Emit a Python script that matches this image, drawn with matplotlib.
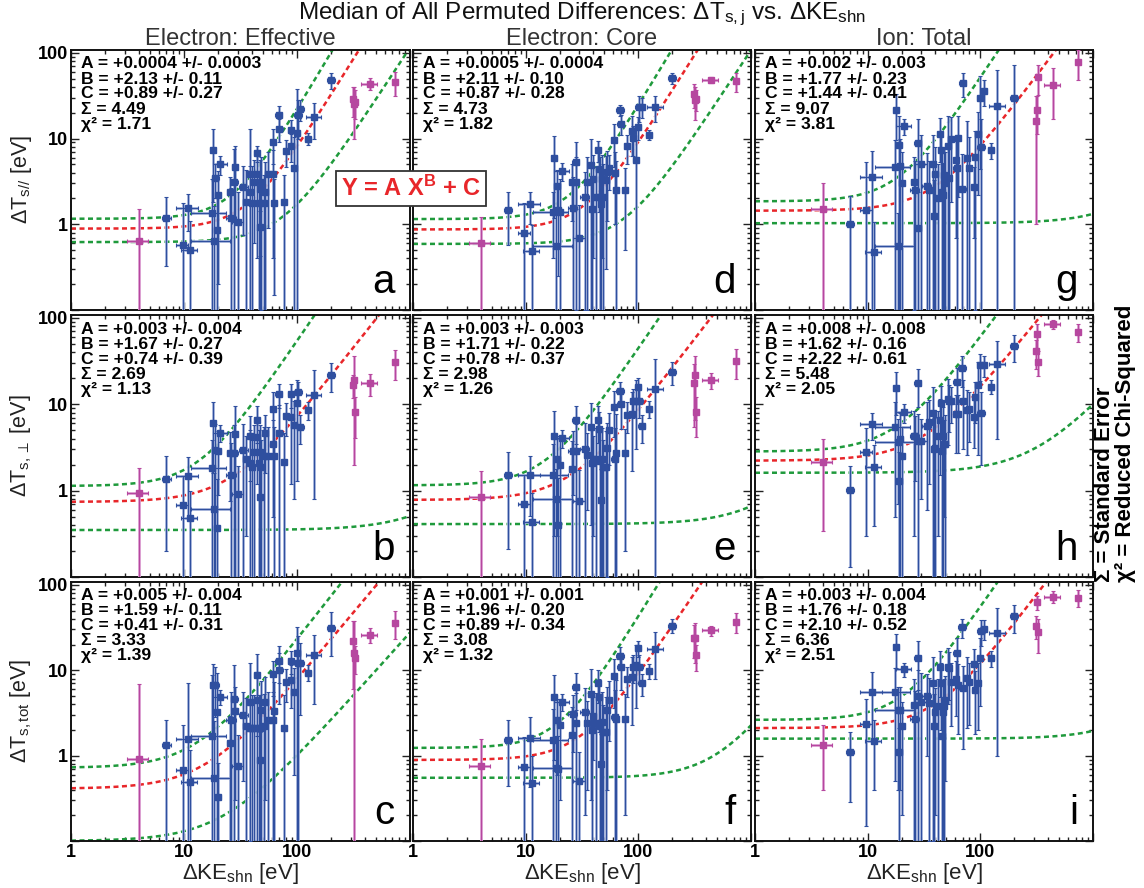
import numpy as np
import matplotlib
matplotlib.use("Agg")
import matplotlib.pyplot as plt
from matplotlib.ticker import FixedLocator, FixedFormatter, LogLocator, NullFormatter

plt.rcParams['font.family'] = ['Liberation Sans', 'DejaVu Sans']
plt.rcParams['mathtext.fontset'] = 'custom'
plt.rcParams['mathtext.rm'] = 'Liberation Sans'
plt.rcParams['mathtext.it'] = 'Liberation Sans:italic'
plt.rcParams['mathtext.bf'] = 'Liberation Sans:bold'

# ---------------- data ----------------
X_BLUE = [7.0, 9.7, 10.9, 11.3, 17.6, 18.0, 18.6, 19.0, 19.5, 20.0, 21.0, 25.7, 26.2, 27.8, 28.2, 30.0,
          33.6, 35.3, 38.0, 38.5, 40.0, 42.0, 44.0, 44.5, 46.0, 47.0, 47.5, 48.5, 51.5, 52.5, 55.0, 61.0,
          61.5, 63.0, 69.0, 70.0, 76.0, 80.0, 88.0, 89.0, 95.0, 100.0, 102.0, 107.0, 125.0, 142.0, 200.0]
DX_BLUE = [0.6, 1.2, 2.4, 1.8, 6.0, 1.0, 7.0, 1.2, 1.0, 1.2, 3.0, 1.5, 2.5, 2.0, 1.5, 3.5,
           3.0, 2.0, 2.0, 1.5, 2.5, 3.0, 2.0, 2.0, 1.5, 2.0, 2.0, 2.0, 3.0, 2.0, 3.0, 3.0,
           4.0, 3.0, 5.0, 5.0, 3.0, 4.0, 5.0, 5.0, 5.0, 6.0, 8.0, 8.0, 8.0, 22.0, 15.0]
X_MAG = [4.0, 312, 320, 326, 440, 730]
DX_MAG = [0.85, 12, 10, 10, 70, 12]

Y_a = [1.2, 0.58, 1.54, 0.50, 1.35, 7.4, 0.63, 3.5, 0.86, 2.2, 5.0, 2.35, 1.17, 3.1, 4.6, 1.07, 2.75, 1.8, 3.9, 2.35,
       1.78, 3.1, 6.8, 3.9, 1.78, 2.6, 0.93, 3.1, 1.78, 2.4, 3.9, 9.1, 3.9, 1.75, 18.7, 13, 1.8, 7.2, 8.3, 12.6,
       4.5, 11.5, 19, 22, 10, 18, 48]
DY_a = [0.87, 1.2, 0.7, 0.6, 2.0, 5.6, 1.0, 1.5, 1.2, 2.0, 1.2, 1.2, 1.5, 4.5, 3.5, 1.3, 2.0, 2.5, 9, 2.5,
        3, 2.5, 1.5, 3.5, 2, 3, 0.5, 3, 2, 3, 3, 4, 3.5, 1.6, 5.5, 4, 2, 2.5, 3, 4, 6, 26, 9, 6, 1.5, 8, 10]
Y_b = [1.35, 0.68, 1.48, 0.48, 1.82, 6.1, 0.61, 2.96, 0.37, 2.9, 4.7, 2.75, 1.52, 2.75, 4.5, 0.91, 2.96, 2.3, 4.3, 2.07,
       1.9, 2.8, 6.6, 4.2, 2.07, 0.84, 2.8, 1.9, 2.5, 4.6, 2.5, 8.7, 3.5, 2.5, 13, 4.7, 2.17, 7.3, 7.2, 13,
       5.8, 10.3, 14, 5.5, 8.6, 12.8, 21.9]
DY_b = [1.15, 0.8, 1.0, 0.5, 2, 4.5, 1.0, 3, 1, 2, 1, 2, 2, 3, 5, 1.0, 3, 2, 3, 3,
        2, 3, 3, 3, 3, 1.0, 3, 2, 3, 3, 3, 5, 3, 3, 4, 5, 2.5, 3, 6, 4, 5, 9, 4, 2, 2, 12, 8]
Y_c = [1.34, 0.67, 1.56, 0.49, 1.71, 6.8, 0.55, 6.8, 3.2, 0.33, 4.9, 1.4, 2.6, 4.6, 3.3, 0.75, 3.0, 2.2, 4.2, 2.1,
       2.1, 2.1, 8.7, 4.5, 2.1, 2.1, 0.9, 3.4, 2.2, 4.3, 2.6, 9.0, 2.6, 3.3, 13, 10, 2.1, 7.3, 7.6, 13,
       5.6, 16, 12, 12, 9.4, 15, 31]
DY_c = [1.25, 1.6, 5.5, 0.66, 7, 5, 2, 4, 6, 0.5, 1.0, 1.5, 3, 7, 3, 1.0, 2.5, 2.5, 8, 2,
        3, 3, 7, 5, 3, 3, 1.0, 4, 3, 4, 3, 4, 3, 4, 6, 6, 3, 3, 4, 4, 5, 16, 13, 9, 2, 11, 16.5]
Y_d = [1.47, 0.79, 1.71, 0.49, 1.4, 6.0, 0.56, 2.8, 1.45, 1.4, 4.2, 3.1, 1.54, 5.3, 3.1, 0.7, 2.1, 3.1, 4.95, 1.5,
       3.4, 2.1, 7.3, 4.4, 2.1, 1.73, 3.4, 2.1, 3.3, 4.1, 4.5, 9.7, 4.0, 2.5, 21.5, 14.9, 2.5, 8.1, 12.2, 10.2,
       5.7, 13.7, 23.5, 23.5, 11.1, 23.5, 51]
DY_d = [0.9, 1.0, 0.7, 0.5, 1.0, 4.8, 1.0, 1.5, 1.2, 2, 1.0, 2, 2, 3.8, 3, 1.0, 2, 3, 5, 2,
        3, 2.5, 2, 3, 4, 2.5, 3, 3, 3, 3, 2, 5, 3, 3, 3, 4, 2, 3, 6, 4, 8, 4, 8, 6, 1.5, 8, 8]
Y_e = [1.51, 0.70, 1.51, 0.43, 1.51, 4.3, 0.79, 2.3, 0.40, 2.0, 4.1, 1.79, 2.9, 6.5, 2.9, 0.75, 3.0, 2.6, 5.4, 2.1,
       2.3, 2.3, 6.6, 5.2, 2.2, 0.78, 2.3, 1.9, 1.9, 3.1, 5.0, 9.2, 2.3, 2.7, 14.3, 10.2, 2.7, 7.6, 7.7, 11,
       11, 15.9, 11, 5.6, 8.9, 15, 23.8]
DY_e = [1.3, 0.8, 1.0, 0.5, 2, 4, 1.0, 2, 1, 2, 1, 2, 2, 3, 3, 1.0, 3, 2, 5, 3,
        2, 3, 3, 3, 3, 1.0, 3, 2, 3, 3, 3, 5, 3, 5, 4, 5, 2.5, 3, 6, 4, 8, 4, 4, 2, 2, 18, 7]
Y_f = [1.54, 0.74, 1.63, 0.48, 1.54, 4.9, 0.71, 2.6, 0.7, 2.3, 4.3, 1.73, 3.1, 6.4, 2.4, 0.51, 3.2, 2.4, 5.3, 2.0,
       2.9, 2.4, 7.1, 4.9, 2.2, 0.8, 2.5, 1.9, 1.9, 3.4, 4.5, 8.6, 2.8, 2.7, 14.6, 10.9, 2.7, 7.8, 8.3, 11,
       11.6, 18.2, 11, 7, 9.9, 17.8, 33.4]
DY_f = [1.1, 0.9, 1.2, 0.5, 2, 4, 1.0, 2, 1.0, 2, 1, 2, 2, 3, 3, 0.6, 3, 2, 5, 3,
        2, 3, 3, 3, 3, 1.0, 3, 2, 3, 3, 3, 5, 3, 5, 4, 5, 2.5, 3, 6, 4, 8, 4, 4, 2, 2, 10, 6]
Y_g = [1.01, 1.45, 3.6, 0.47, 4.7, 21.5, 0.56, 8.5, 4.8, 3.0, 14, 3.1, 2.5, 8.9, 0.9, 5.0, 2.8, 2.5, 5.0, 1.25,
       3.9, 2.0, 11.4, 7.3, 2.4, 2.2, 3.8, 3.0, 8.3, 3.5, 9.8, 5.7, 4.5, 10.1, 2.6, 44.8, 5.9, 4.5, 2.7, 6.1,
       11.2, 29.4, 8.0, 35.9, 7.3, 23.9, 29.4]
DY_g = [1.1, 3.9, 3.6, 0.6, 5, 12, 0.8, 10, 5, 4, 3, 3, 3, 8, 1.5, 6, 4, 3, 6, 2,
        4, 3, 6, 5, 5, 3, 4, 4, 10, 4, 8, 5, 5, 8, 4, 14, 10, 6, 2, 6, 9, 25, 9, 12, 1.5, 40, 42]
Y_h = [1.03, 2.8, 5.9, 1.89, 5.5, 15.5, 3.7, 1.29, 4.0, 2.5, 8.1, 4.3, 4.3, 17.4, 3.8, 3.8, 5.6, 6.2, 8.0, 3.0,
       3.1, 4.3, 6.5, 10.4, 2.9, 4.3, 3.5, 3.5, 11.4, 10.8, 11, 7.7, 18.2, 7.7, 26, 11, 8.6, 8.7, 7.1, 12,
       16.6, 28.5, 8, 28.5, 16, 29, 46.7]
DY_h = [0.9, 2.5, 2, 1.5, 5, 8, 3, 1.5, 4, 3, 2, 4, 3, 8, 4, 3, 5, 5, 8, 4,
        4, 4, 5, 6, 3, 5, 3, 4, 8, 6, 5, 5, 8, 5, 10, 8, 6, 5, 4, 6, 14, 10, 6, 8, 3, 25, 16]
Y_i = [1.09, 2.35, 5.5, 1.5, 5.5, 18.5, 3.4, 1.09, 3.4, 2.2, 10.3, 3.9, 2.7, 13.8, 5.0, 4.3, 4.98, 4.1, 7.1, 2.2,
       3.2, 3.8, 10.8, 7.0, 1.72, 3.2, 3.8, 4.5, 11, 10.5, 7.2, 7.9, 16, 6.8, 31.7, 6.2, 8.1, 7.3, 11.8, 5.8,
       7.0, 13.8, 29, 30.8, 13.8, 27, 42.6]
DY_i = [0.8, 2.2, 4, 1.1, 5, 8, 3, 1.0, 3, 2, 2, 4, 3, 8, 5, 5, 4, 4, 7, 3,
        3, 4, 6, 5, 2, 4, 4, 4, 7, 6, 5, 5, 8, 5, 8, 5, 6, 5, 6, 4, 5, 10, 10, 8, 3, 26, 15]

YM_a = [0.64, 29, 25, 27, 43.6, 45.6];  DYM_a = [0.86, 11, 15, 10, 7, 14]
YM_b = [0.93, 16.7, 19, 8.1, 17.6, 31]; DYM_b = [0.92, 5, 17, 4, 5, 12]
YM_c = [0.91, 22, 16, 14, 26, 36];      DYM_c = [6, 16, 22, 5, 5, 13]
YM_d = [0.6, 32.8, 28.5, 29, 48.3, 47]; DYM_d = [0.63, 10, 12, 8, 4, 12]
YM_e = [0.84, 17.4, 21.6, 8.2, 19, 31.7]; DYM_e = [0.85, 12, 15, 4, 4, 12]
YM_f = [0.76, 23.8, 24, 14.9, 29.3, 37];  DYM_f = [0.8, 10, 12, 5, 4, 10]
YM_g = [1.51, 16, 21.3, 52, 42, 78.5];    DYM_g = [1.5, 15, 10, 20, 25, 30]
YM_h = [2.14, 40.9, 65, 31, 85, 68];      DYM_h = [1.8, 15, 20, 10, 10, 16]
YM_i = [1.33, 33, 63, 28.1, 73, 71];      DYM_i = [0.93, 10, 12, 12, 12, 16]

# fit parameters: A, dA, B, dB, C, dC, lower-bound coefficient, Sigma, chi2
FIT_A = ['+0.0004', '+0.003', '+0.005', '+0.0005', '+0.003', '+0.001', '+0.002', '+0.008', '+0.003']
FIT_DA = ['0.0003', '0.004', '0.004', '0.0004', '0.003', '0.001', '0.003', '0.008', '0.004']
FIT_B = [2.13, 1.67, 1.59, 2.11, 1.71, 1.96, 1.77, 1.62, 1.76]
FIT_DB = [0.11, 0.27, 0.11, 0.10, 0.22, 0.20, 0.23, 0.16, 0.18]
FIT_C = [0.89, 0.74, 0.41, 0.87, 0.78, 0.89, 1.44, 2.22, 2.10]
FIT_DC = [0.27, 0.39, 0.31, 0.28, 0.37, 0.34, 0.41, 0.61, 0.52]
A_LOW = [0.0001, 1.0e-5, 0.001, 0.0001, 8.5e-6, 9e-6, 7e-6, 3.5e-4, 6.7e-6]
SIGMA = [4.49, 2.69, 3.33, 4.73, 2.98, 3.08, 9.07, 5.48, 6.36]
CHI2 = [1.71, 1.13, 1.39, 1.82, 1.26, 1.32, 3.81, 2.05, 2.51]

LETTERS = ['a', 'b', 'c', 'd', 'e', 'f', 'g', 'h', 'i']
COL_TITLES = ['Electron: Effective', 'Electron: Core', 'Ion: Total']
ROW_LABELS = [r'$\Delta$T$_{\rm s//}$ [eV]', r'$\Delta$T$_{\rm s,\perp}$ [eV]', r'$\Delta$T$_{\rm s,tot}$ [eV]']

Y_ALL = [Y_a, Y_b, Y_c, Y_d, Y_e, Y_f, Y_g, Y_h, Y_i]
DY_ALL = [DY_a, DY_b, DY_c, DY_d, DY_e, DY_f, DY_g, DY_h, DY_i]
YM_ALL = [YM_a, YM_b, YM_c, YM_d, YM_e, YM_f, YM_g, YM_h, YM_i]
DYM_ALL = [DYM_a, DYM_b, DYM_c, DYM_d, DYM_e, DYM_f, DYM_g, DYM_h, DYM_i]

# ---------------- layout ----------------
W, H = 1144, 888
fig = plt.figure(figsize=(W / 100, H / 100), dpi=100)
col_x = [(71, 410), (413, 751), (755, 1093)]
row_y = [(50, 310), (315, 577), (582, 841)]

BLUE = '#2f4f9f'
BLUE_L = '#a3b2da'
MAG = '#b6479f'
MAG_L = '#dc9dd2'
RED = '#e8262a'
GREEN = '#1f9a3c'

xx = np.logspace(0, 3, 400)

for c in range(3):
    for r in range(3):
        k = c * 3 + r
        x0, x1 = col_x[c]
        y0, y1 = row_y[r]
        ax = fig.add_axes([x0 / W, 1 - y1 / H, (x1 - x0) / W, (y1 - y0) / H])
        ax.set_xscale('log')
        ax.set_yscale('log')
        ax.set_xlim(1, 1000)
        ax.set_ylim(0.1, 108)

        A = float(FIT_A[k]); dA = float(FIT_DA[k])
        B = FIT_B[k]; dB = FIT_DB[k]; C = FIT_C[k]; dC = FIT_DC[k]
        dash = (0, (2.0, 1.4))
        ax.plot(xx, A * xx ** B + C, color=RED, lw=1.8, ls=dash, zorder=2)
        ax.plot(xx, (A + dA) * xx ** (B + dB) + (C + dC), color=GREEN, lw=1.8, ls=dash, zorder=2)
        ax.plot(xx, A_LOW[k] * xx ** (B - dB) + (C - dC), color=GREEN, lw=1.8, ls=dash, zorder=2)

        yb = np.array(Y_ALL[k]); dyb = np.array(DY_ALL[k])
        lo = np.minimum(dyb, yb - 1e-3)
        xb = np.array(X_BLUE); dxb = np.array(DX_BLUE)
        ax.errorbar(xb, yb, xerr=dxb, yerr=[lo, dyb], fmt='none', ecolor=BLUE_L, elinewidth=2.0,
                    capsize=0, zorder=3)
        ax.errorbar(xb, yb, xerr=dxb, yerr=[lo, dyb], fmt='s', ms=4.3, mfc=BLUE, mec=BLUE,
                    ecolor=BLUE, elinewidth=0.8, capsize=1.6, capthick=0.8, zorder=4)

        ym = np.array(YM_ALL[k]); dym = np.array(DYM_ALL[k])
        lom = np.minimum(dym, ym - 1e-3)
        ax.errorbar(X_MAG, ym, xerr=DX_MAG, yerr=[lom, dym], fmt='none', ecolor=MAG_L, elinewidth=2.0,
                    capsize=0, zorder=3)
        ax.errorbar(X_MAG, ym, xerr=DX_MAG, yerr=[lom, dym], fmt='s', ms=4.3, mfc=MAG, mec=MAG,
                    ecolor=MAG, elinewidth=0.8, capsize=1.6, capthick=0.8, zorder=4)

        # ticks
        ax.xaxis.set_major_locator(FixedLocator([1, 10, 100, 1000]))
        ax.yaxis.set_major_locator(FixedLocator([0.1, 1, 10, 100]))
        ax.xaxis.set_minor_locator(LogLocator(base=10, subs=np.arange(2, 10), numticks=20))
        ax.yaxis.set_minor_locator(LogLocator(base=10, subs=np.arange(2, 10), numticks=20))
        ax.xaxis.set_minor_formatter(NullFormatter())
        ax.yaxis.set_minor_formatter(NullFormatter())
        if r == 2:
            ax.xaxis.set_major_formatter(FixedFormatter(['1', '10', '100', '']))
        else:
            ax.xaxis.set_major_formatter(NullFormatter())
        if c == 0:
            ax.yaxis.set_major_formatter(FixedFormatter(['', '1', '10', '100']))
        else:
            ax.yaxis.set_major_formatter(NullFormatter())
        ax.tick_params(which='both', direction='in', top=True, right=True, width=1.0, color='#222222')
        ax.tick_params(which='major', length=5.5, labelsize=13, pad=2)
        ax.tick_params(which='minor', length=3)
        for lab in ax.get_xticklabels() + ax.get_yticklabels():
            lab.set_fontweight('bold')
        for s in ax.spines.values():
            s.set_linewidth(1.4)
            s.set_color('#111111')

        # annotation block
        lines = ['A = %s +/- %s' % (FIT_A[k], FIT_DA[k]),
                 'B = +%.2f +/- %.2f' % (B, dB),
                 'C = +%.2f +/- %.2f' % (C, dC),
                 '\u03A3 = %.2f' % SIGMA[k],
                 '\u03C7\u00B2 = %.2f' % CHI2[k]]
        for j, t in enumerate(lines):
            ax.text(10 / 339, 1 - (14 + 15 * j) / 260, t, transform=ax.transAxes, fontsize=12.6,
                    fontweight='bold', ha='left', va='center', color='black', zorder=6)
        ax.text(0.955, 0.065, LETTERS[k], transform=ax.transAxes, fontsize=29, ha='right',
                va='baseline', color='black', zorder=6)

        if r == 0:
            ax.set_title(COL_TITLES[c], fontsize=17, color='#333333', pad=1.5)
        if c == 0:
            ax.set_ylabel(ROW_LABELS[r], fontsize=15.5, color='#222222', labelpad=3)
        if r == 2:
            ax.set_xlabel(r'$\Delta$KE$_{\rm shn}$ [eV]', fontsize=16, color='#222222', labelpad=0)

fig.text(582 / W, 1 - 19 / H,
         r'Median of All Permuted Differences: $\Delta$T$_{\rm s,j}$ vs. $\Delta$KE$_{\rm shn}$',
         fontsize=17.5, ha='center', va='baseline', color='#111111')

fig.text(411 / W, 1 - 188.5 / H, r'Y = A X$^{\mathbf{B}}$ + C', fontsize=17, fontweight='bold',
         color=RED, ha='center', va='center',
         bbox=dict(boxstyle='square,pad=0.22', fc='white', ec='#333333', lw=1.3), zorder=10)

fig.text(1104 / W, 1 - 582 / H, '\u03A3 = Standard Error', rotation=90, fontsize=16,
         fontweight='bold', ha='center', va='bottom')
fig.text(1126 / W, 1 - 582 / H, '\u03C7\u00B2 = Reduced Chi-Squared', rotation=90, fontsize=16,
         fontweight='bold', ha='center', va='bottom')

fig.savefig('out.png', dpi=100)
